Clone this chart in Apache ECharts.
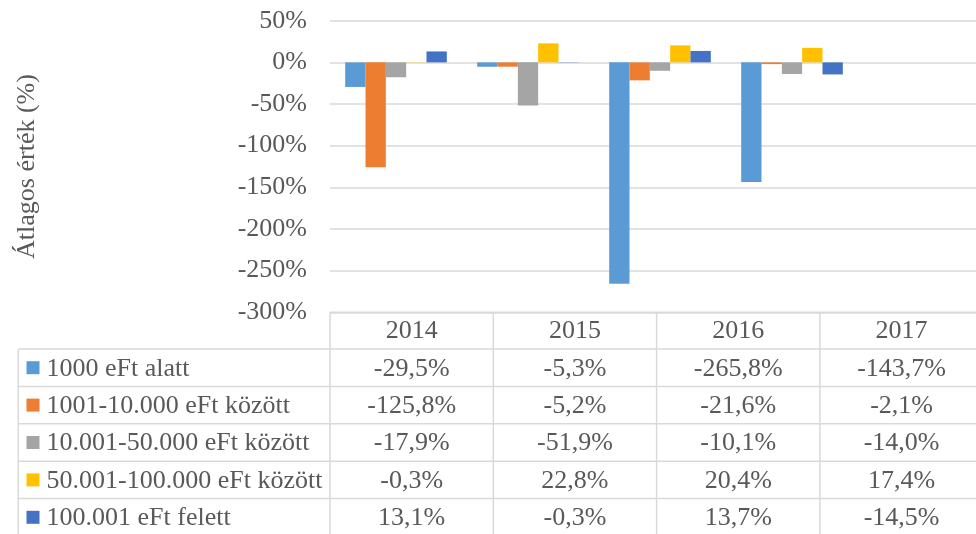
<!DOCTYPE html>
<html>
<head>
<meta charset="utf-8">
<script src="https://cdn.jsdelivr.net/npm/echarts@6/dist/echarts.min.js"></script>
<style>
  html, body { margin: 0; padding: 0; background: #fff; }
  #chart { width: 976px; height: 534px; }
</style>
</head>
<body>
<div id="chart"></div>
<script>
var years = ['2014', '2015', '2016', '2017'];
var seriesNames = [
    '1000 eFt alatt',
    '1001-10.000 eFt között',
    '10.001-50.000 eFt között',
    '50.001-100.000 eFt között',
    '100.001 eFt felett'
];
var below1000 = [-29.5, -5.3, -265.8, -143.7];
var from1001 = [-125.8, -5.2, -21.6, -2.1];
var from10001 = [-17.9, -51.9, -10.1, -14.0];
var from50001 = [-0.3, 22.8, 20.4, 17.4];
var above100001 = [13.1, -0.3, 13.7, -14.5];
var seriesValues = [below1000, from1001, from10001, from50001, above100001];

var colors = ['#5b9bd5', '#ed7d31', '#a5a5a5', '#ffc000', '#4472c4'];
var fontFamily = '"Liberation Serif", "Times New Roman", serif';
var textColor = '#595959';
var lineColor = '#d9d9d9';

var chart = echarts.init(document.getElementById('chart'));

// table layout
var tableLeft = 18.3;
var colStart = 330;
var colW = 163.3;
var headerTop = 312.3;
var headerBottom = 349;
var rowH = 37.4;
var tableRight = 990;
var tableBottom = 545;

function fmt(v) {
    return v.toFixed(1).replace('.', ',') + '%';
}

function line(x1, y1, x2, y2) {
    return {
        type: 'line',
        silent: true,
        shape: { x1: x1, y1: y1, x2: x2, y2: y2 },
        style: { stroke: lineColor, lineWidth: 1.5 }
    };
}

function text(str, x, y, align) {
    return {
        type: 'text',
        silent: true,
        x: x,
        y: y,
        style: {
            text: str,
            fill: textColor,
            font: '26px ' + fontFamily,
            align: align,
            verticalAlign: 'middle',
            textAlign: align,
            textVerticalAlign: 'middle'
        }
    };
}

var graphics = [];
// header row top
graphics.push(line(colStart, headerTop, tableRight, headerTop));
// row lines
for (var r = 0; r <= seriesNames.length; r++) {
    var yy = headerBottom + r * rowH;
    graphics.push(line(tableLeft, yy, tableRight, yy));
}
// vertical lines
graphics.push(line(tableLeft, headerBottom, tableLeft, tableBottom));
for (var c = 0; c <= years.length; c++) {
    var xx = colStart + c * colW;
    graphics.push(line(xx, headerTop, xx, tableBottom));
}
// header labels
years.forEach(function (yr, i) {
    graphics.push(text(yr, colStart + (i + 0.5) * colW, (headerTop + headerBottom) / 2 + 1, 'center'));
});
// rows
seriesNames.forEach(function (name, s) {
    var cy = headerBottom + (s + 0.5) * rowH;
    graphics.push({
        type: 'rect',
        silent: true,
        shape: { x: 26.5, y: cy - 6.5, width: 13, height: 13 },
        style: { fill: colors[s] }
    });
    graphics.push(text(name, 46.5, cy + 1, 'left'));
    seriesValues[s].forEach(function (v, i) {
        graphics.push(text(fmt(v), colStart + (i + 0.5) * colW, cy + 1, 'center'));
    });
});

var option = {
    animation: false,
    backgroundColor: '#fff',
    grid: [
        { left: 330, top: 20.7, height: 291.6, right: -14 },
        { left: 330, top: 20.7, height: 291.6, width: 528 }
    ],
    xAxis: [
        { type: 'category', gridIndex: 0, data: years, show: false },
        { type: 'category', gridIndex: 1, data: years, show: false }
    ],
    yAxis: [
        {
            type: 'value',
            gridIndex: 0,
            min: -300,
            max: 50,
            interval: 50,
            name: 'Átlagos érték (%)',
            nameLocation: 'middle',
            nameRotate: 90,
            nameGap: 290,
            nameTextStyle: { fontFamily: fontFamily, fontSize: 26, color: textColor },
            axisLine: { show: false },
            axisTick: { show: false },
            axisLabel: {
                formatter: '{value}%',
                fontFamily: fontFamily,
                fontSize: 26,
                color: textColor,
                margin: 23,
                showMinLabel: true,
                showMaxLabel: true
            },
            splitLine: { lineStyle: { color: lineColor, width: 1.5 } }
        },
        {
            type: 'value',
            gridIndex: 1,
            min: -300,
            max: 50,
            interval: 50,
            show: false,
            splitLine: { show: false }
        }
    ],
    series: seriesNames.map(function (name, s) {
        return {
            name: name,
            type: 'bar',
            xAxisIndex: 1,
            yAxisIndex: 1,
            data: seriesValues[s],
            barGap: '0%',
            barCategoryGap: '23%',
            itemStyle: { color: colors[s] }
        };
    }),
    graphic: graphics
};

chart.setOption(option);
</script>
</body>
</html>
